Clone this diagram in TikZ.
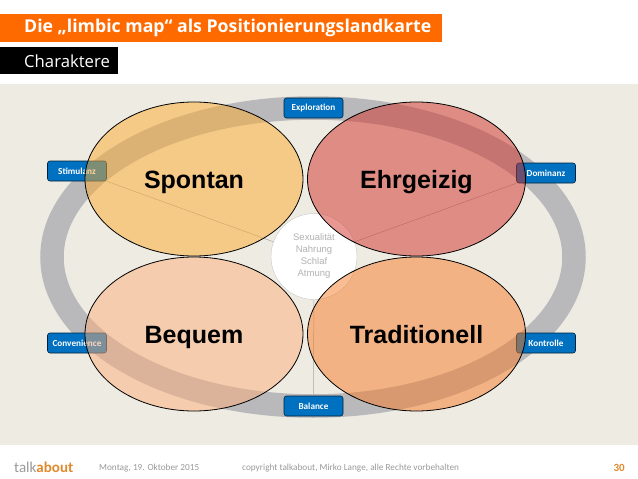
\documentclass[tikz,border=0pt]{standalone}
\usepackage{fontspec}
\setmainfont{Liberation Sans}
\newfontfamily\headfont{Open Sans}
\newfontfamily\footfont{Carlito}
\usetikzlibrary{shapes.geometric,backgrounds}
\definecolor{paper}{HTML}{EDEBE2}
\definecolor{headorange}{HTML}{FF6A00}
\definecolor{ringgray}{HTML}{B9B9BB}
\definecolor{tagblue}{HTML}{0070C0}
\definecolor{footgray}{HTML}{9A9A9A}
\definecolor{aboutorange}{HTML}{E08A2E}
\definecolor{spontanfill}{HTML}{FDAB2E}
\definecolor{ehrgeizfill}{HTML}{D33128}
\definecolor{bequemfill}{HTML}{FDAF7A}
\definecolor{traditionfill}{HTML}{F77B26}
\tikzset{
  charakter/.style={ellipse, draw=black, line width=0.8pt, fill opacity=0.5, text opacity=1,
    minimum width=218, minimum height=154, inner sep=0pt, text height=19, text depth=0,
    font=\fontsize{25}{25}\selectfont\bfseries},
  tag/.style={draw=black!70!tagblue, fill=tagblue, rounded corners=2.5pt, line width=0.6pt, text=white,
    minimum width=59, minimum height=20, inner sep=0pt, font=\footfont\fontsize{9.2}{9.5}\selectfont\bfseries},
  foot/.style={inner sep=0pt, text=footgray, font=\footfont\fontsize{9.25}{10}\selectfont},
  strich/.style={black!35, line width=0.5pt}
}
\begin{document}
\begin{tikzpicture}[x=1pt,y=-1pt]
  \useasboundingbox (0,0) rectangle (638,479);
  % head
  \node[anchor=west, inner sep=0pt, text=white, font=\headfont\fontsize{17.7}{18}\selectfont\bfseries] (titel) at (24,28) {Die „limbic map“ als Positionierungslandkarte};
  \node[anchor=west, inner sep=0pt, text=white, font=\headfont\fontsize{16.7}{17}\selectfont] (untertitel) at (24,61) {Charaktere};
  % tags
  \node[tag] (exploration) at (313.5,108) {Exploration};
  \node[tag] (stimulanz) at (77,171) {Stimulanz};
  \node[tag] (dominanz) at (546,173) {Dominanz};
  \node[tag] (convenience) at (77,343) {Convenience};
  \node[tag] (kontrolle) at (546,343) {Kontrolle};
  \node[tag] (balance) at (313.5,406) {Balance};
  % centre
  \node[circle, draw=black!22, fill=white, minimum size=86, inner sep=0pt, align=center,
    text=black!30, font=\fontsize{9.5}{12}\selectfont] (kern) at (314,256.5) {Sexualität\\Nahrung\\Schlaf\\Atmung};
  % four types
  \node[charakter, fill=spontanfill] (spontan) at (194,179) {Spontan};
  \node[charakter, fill=ehrgeizfill] (ehrgeizig) at (416.5,179) {Ehrgeizig};
  \node[charakter, fill=bequemfill] (bequem) at (194,334) {Bequem};
  \node[charakter, fill=traditionfill] (traditionell) at (416.5,334) {Traditionell};
  % foot
  \node[anchor=west, inner sep=0pt, font=\footfont\fontsize{15}{15}\selectfont] (logo) at (14,467) {\textcolor{footgray}{talk}\textcolor{aboutorange}{\bfseries about}};
  \node[foot, anchor=west] (datum) at (99,468) {Montag, 19. Oktober 2015};
  \node[foot, anchor=west] (copyright) at (242,468) {copyright talkabout, Mirko Lange, alle Rechte vorbehalten};
  \node[anchor=east, inner sep=0pt, text=aboutorange, font=\footfont\fontsize{11}{11}\selectfont\bfseries] (seite) at (625,468) {30};
  % ground, ring and thin lines go under all of it
  \begin{scope}[on background layer]
    \fill[white] (0,0) rectangle (638,479);
    \fill[paper] (0,84) rectangle (638,445);
    \fill[headorange] (0,14) rectangle (442,42);
    \fill[black] (0,47) rectangle (118,74);
    \draw[ringgray, line width=23.5] (313,257) ellipse (261 and 149);
    \draw[strich] (stimulanz.south east) -- (kern);
    \draw[strich] (dominanz.south west) -- (kern);
    \draw[strich] (balance) -- (kern);
  \end{scope}
\end{tikzpicture}
\end{document}
